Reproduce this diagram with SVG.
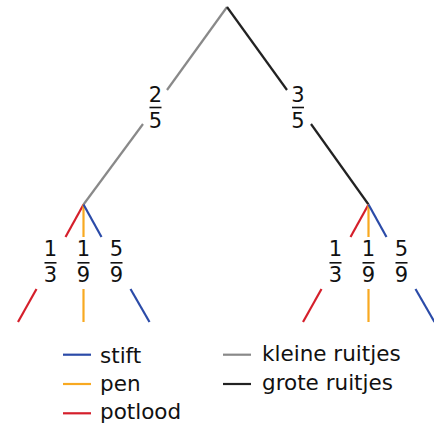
<svg xmlns="http://www.w3.org/2000/svg" width="434" height="423" viewBox="0 0 434 423">
<style>
line{stroke-width:2.2;fill:none}
.g{stroke:#898989}.k{stroke:#222222}.r{stroke:#d51f2b}.o{stroke:#f8a921}.b{stroke:#2b4ba8}
text{font-family:"DejaVu Sans",sans-serif;font-size:21.5px;fill:#111111}
.f text{text-anchor:middle;font-size:21px}
.bar{stroke:#111111;stroke-width:1.6}
</style>
<rect width="434" height="423" fill="#ffffff"/>
<g id="connectors">
<line class="g" x1="227" y1="7" x2="167" y2="90"/>
<line class="g" x1="143" y1="124" x2="83.5" y2="204.5"/>
<line class="k" x1="227" y1="7" x2="287" y2="90"/>
<line class="k" x1="311" y1="124" x2="368.5" y2="204.5"/>
<line class="r" x1="83.5" y1="204.5" x2="65.5" y2="237"/>
<line class="r" x1="36.5" y1="289" x2="18" y2="322"/>
<line class="o" x1="83.5" y1="204.5" x2="83.5" y2="237"/>
<line class="o" x1="83.5" y1="289" x2="83.5" y2="322"/>
<line class="b" x1="83.5" y1="204.5" x2="101.5" y2="237"/>
<line class="b" x1="130.5" y1="289" x2="149.5" y2="322"/>
<line class="r" x1="368.5" y1="204.5" x2="350.5" y2="237"/>
<line class="r" x1="321.5" y1="289" x2="303" y2="322"/>
<line class="o" x1="368.5" y1="204.5" x2="368.5" y2="237"/>
<line class="o" x1="368.5" y1="289" x2="368.5" y2="322"/>
<line class="b" x1="368.5" y1="204.5" x2="386.5" y2="237"/>
<line class="b" x1="415.5" y1="289" x2="434.5" y2="322"/>
</g>
<g id="label-2-5" class="f"><text x="155.5" y="102">2</text><line class="bar" x1="149.5" y1="107.5" x2="161.5" y2="107.5"/><text x="155.5" y="127.5">5</text></g>
<g id="label-3-5" class="f"><text x="298" y="102">3</text><line class="bar" x1="292" y1="107.5" x2="304" y2="107.5"/><text x="298" y="127.5">5</text></g>
<g id="label-L-1-3" class="f"><text x="50.5" y="256">1</text><line class="bar" x1="44.5" y1="262.8" x2="56.5" y2="262.8"/><text x="50.5" y="282">3</text></g>
<g id="label-L-1-9" class="f"><text x="83.5" y="256">1</text><line class="bar" x1="77.5" y1="262.8" x2="89.5" y2="262.8"/><text x="83.5" y="282">9</text></g>
<g id="label-L-5-9" class="f"><text x="116.5" y="256">5</text><line class="bar" x1="110.5" y1="262.8" x2="122.5" y2="262.8"/><text x="116.5" y="282">9</text></g>
<g id="label-R-1-3" class="f"><text x="335.5" y="256">1</text><line class="bar" x1="329.5" y1="262.8" x2="341.5" y2="262.8"/><text x="335.5" y="282">3</text></g>
<g id="label-R-1-9" class="f"><text x="368.5" y="256">1</text><line class="bar" x1="362.5" y1="262.8" x2="374.5" y2="262.8"/><text x="368.5" y="282">9</text></g>
<g id="label-R-5-9" class="f"><text x="401.5" y="256">5</text><line class="bar" x1="395.5" y1="262.8" x2="407.5" y2="262.8"/><text x="401.5" y="282">9</text></g>
<g id="legend">
<line class="b" x1="63" y1="354.7" x2="91" y2="354.7"/><text x="100" y="363">stift</text>
<line class="o" x1="63" y1="384" x2="91" y2="384"/><text x="100" y="391">pen</text>
<line class="r" x1="63" y1="413.3" x2="91" y2="413.3"/><text x="100" y="418.7">potlood</text>
<line class="g" x1="223" y1="354.7" x2="251" y2="354.7"/><text x="262" y="361">kleine ruitjes</text>
<line class="k" x1="223" y1="384" x2="251" y2="384"/><text x="262" y="390">grote ruitjes</text>
</g>
</svg>
